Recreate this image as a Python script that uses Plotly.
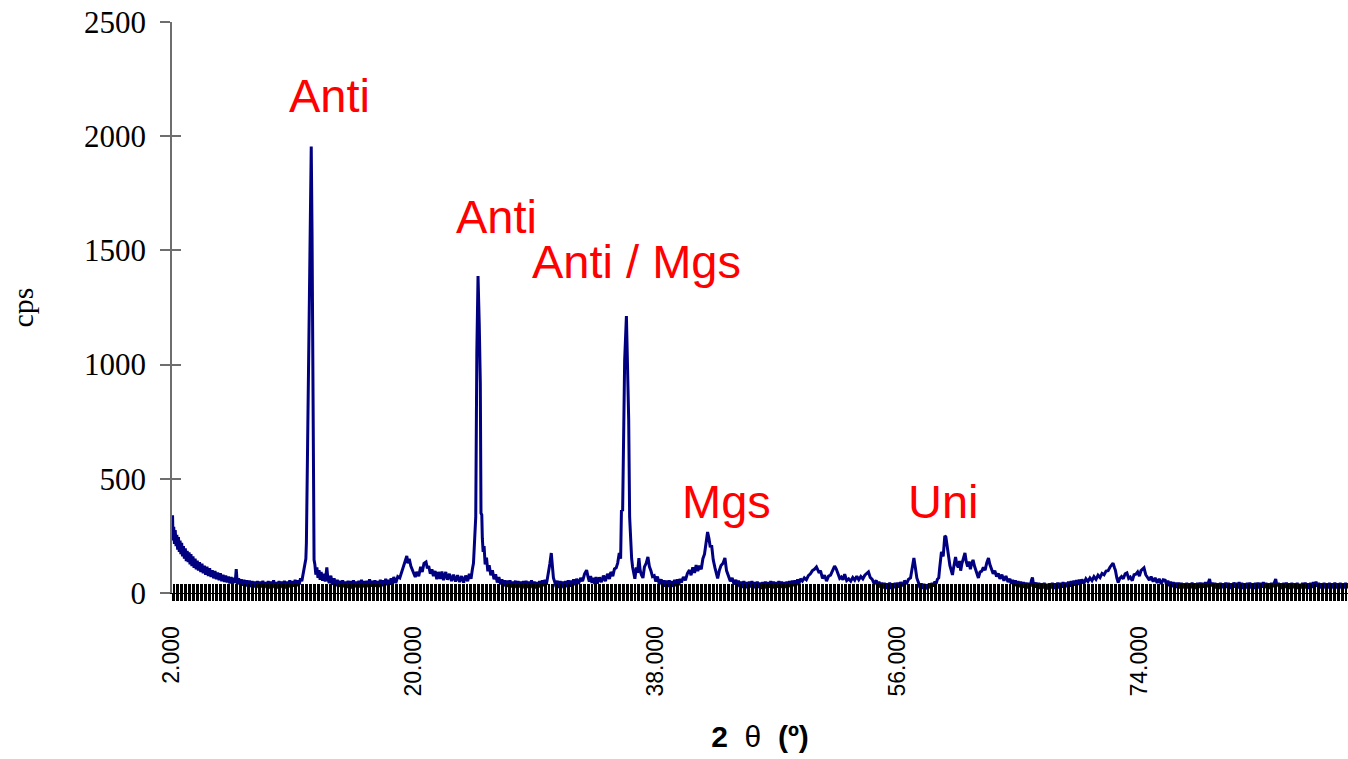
import plotly.graph_objects as go

# X-ray diffraction scan: (2-theta in degrees, intensity in cps)
low_angle = [
    (2.00, 300), (2.04, 340), (2.08, 230), (2.13, 290), (2.18, 215), (2.24, 275),
    (2.30, 205), (2.36, 255), (2.42, 190), (2.48, 245), (2.54, 180), (2.60, 230),
    (2.66, 170), (2.72, 220), (2.78, 160), (2.85, 205), (2.92, 150), (2.99, 195),
    (3.06, 140), (3.13, 185), (3.20, 135), (3.27, 178), (3.34, 125), (3.41, 170),
    (3.48, 118), (3.56, 160), (3.64, 110), (3.72, 150), (3.80, 104), (3.88, 142),
    (3.96, 98), (4.05, 135), (4.14, 92), (4.23, 128), (4.32, 86), (4.41, 120),
    (4.50, 80), (4.60, 115), (4.70, 74), (4.80, 108), (4.90, 70), (5.00, 100),
    (5.10, 64), (5.20, 96), (5.30, 60), (5.40, 90), (5.50, 56), (5.60, 86),
    (5.70, 52), (5.80, 80), (5.90, 48), (6.00, 76), (6.10, 46), (6.20, 72),
    (6.30, 42), (6.40, 70), (6.50, 40), (6.60, 66), (6.70, 44), (6.78, 105),
    (6.86, 40), (6.96, 64), (7.06, 36), (7.16, 60), (7.26, 32), (7.36, 58),
    (7.46, 30), (7.56, 56), (7.66, 28), (7.76, 54), (7.86, 26), (7.96, 52),
    (8.06, 24), (8.16, 50), (8.26, 26), (8.36, 52), (8.46, 22), (8.56, 50),
    (8.66, 24), (8.76, 54), (8.86, 22), (8.96, 48), (9.06, 26), (9.16, 52),
    (9.26, 20), (9.36, 50), (9.46, 24), (9.56, 56), (9.66, 22), (9.76, 48),
    (9.86, 20), (9.96, 52), (10.06, 24), (10.16, 50), (10.26, 22), (10.36, 54),
    (10.46, 20), (10.56, 50), (10.66, 26), (10.76, 56), (10.86, 24), (10.96, 52),
    (11.06, 28), (11.16, 58), (11.26, 30), (11.36, 56), (11.46, 36), (11.56, 64),
    (11.66, 52), (11.74, 80),
]

anti_peak_12 = [
    (11.81, 100), (11.89, 135), (11.96, 150), (12.00, 220), (12.04, 340),
    (12.09, 650), (12.10, 700), (12.33, 1955), (12.36, 1955), (12.42, 1575),
    (12.50, 525), (12.57, 145), (12.63, 125), (12.70, 80), (12.78, 112),
    (12.86, 66), (12.94, 100), (13.02, 58), (13.10, 92), (13.20, 54), (13.30, 84),
    (13.40, 50), (13.52, 112), (13.60, 62), (13.70, 44), (13.82, 76), (13.94, 36),
    (14.06, 64), (14.18, 30), (14.30, 58),
]

mid_angle_1 = [
    (14.40, 28), (14.50, 54), (14.60, 24), (14.70, 56), (14.80, 26), (14.90, 50),
    (15.00, 22), (15.10, 54), (15.20, 24), (15.30, 52), (15.40, 20), (15.50, 56),
    (15.60, 26), (15.70, 50), (15.80, 22), (15.90, 54), (16.00, 24), (16.10, 58),
    (16.20, 26), (16.30, 52), (16.40, 20), (16.50, 54), (16.60, 26), (16.70, 60),
    (16.80, 28), (16.90, 54), (17.00, 24), (17.10, 56), (17.20, 28), (17.30, 52),
    (17.40, 26), (17.50, 58), (17.60, 30), (17.70, 56), (17.80, 32), (17.90, 62),
    (18.00, 34), (18.10, 58), (18.20, 36), (18.30, 64), (18.40, 40), (18.50, 70),
    (18.65, 44), (18.80, 72), (18.95, 66),
    (19.10, 95), (19.25, 120), (19.40, 150), (19.47, 162), (19.55, 130),
    (19.65, 150), (19.77, 118), (19.88, 105), (20.00, 84), (20.10, 70),
    (20.20, 92), (20.36, 74), (20.50, 115), (20.62, 92), (20.75, 130),
    (20.90, 136), (21.00, 108), (21.10, 118), (21.22, 84), (21.34, 104),
    (21.45, 74), (21.58, 96), (21.70, 60), (21.82, 92), (21.95, 62), (22.08, 94),
    (22.20, 56), (22.37, 92), (22.50, 58), (22.65, 84), (22.80, 52), (22.95, 80),
    (23.10, 50), (23.25, 78), (23.40, 48), (23.55, 74), (23.70, 46), (23.85, 76),
    (24.00, 52), (24.12, 84), (24.25, 62), (24.35, 104), (24.43, 130),
]

anti_peak_24 = [
    (24.48, 188), (24.55, 260), (24.60, 333), (24.68, 1050), (24.77, 1388),
    (24.86, 1180), (24.94, 920), (24.99, 350), (25.05, 342), (25.09, 240),
    (25.15, 180), (25.22, 205), (25.30, 125), (25.40, 155), (25.50, 95),
    (25.60, 122), (25.72, 78), (25.84, 100), (25.96, 60), (26.08, 82),
    (26.20, 46), (26.32, 70), (26.45, 38),
]

mid_angle_2 = [
    (26.55, 60), (26.65, 32), (26.75, 56), (26.85, 28), (26.95, 54), (27.05, 26),
    (27.15, 56), (27.25, 24), (27.35, 50), (27.45, 26), (27.55, 54), (27.65, 22),
    (27.75, 52), (27.85, 24), (27.95, 50), (28.05, 20), (28.15, 52), (28.25, 24),
    (28.35, 54), (28.45, 22), (28.55, 50), (28.65, 26), (28.75, 56), (28.85, 22),
    (28.95, 50), (29.05, 20), (29.15, 48), (29.25, 24), (29.35, 52), (29.45, 26),
    (29.55, 56), (29.65, 30), (29.75, 58), (29.85, 36), (29.95, 70),
    (30.02, 90), (30.12, 130), (30.22, 175), (30.30, 125), (30.38, 66),
    (30.48, 48), (30.58, 26), (30.68, 54), (30.78, 22), (30.88, 52), (30.98, 24),
    (31.08, 50), (31.18, 20), (31.28, 52), (31.38, 26), (31.48, 56), (31.58, 28),
    (31.68, 54), (31.78, 30), (31.88, 60), (31.98, 34), (32.10, 62), (32.25, 40),
    (32.40, 66), (32.55, 52), (32.70, 84), (32.85, 100), (32.95, 72), (33.05, 50),
    (33.15, 74), (33.25, 44), (33.35, 66), (33.45, 40), (33.55, 70), (33.65, 42),
    (33.80, 68), (33.95, 48), (34.10, 76), (34.25, 52), (34.40, 84), (34.55, 62),
    (34.65, 92), (34.80, 74), (34.92, 105), (35.05, 110), (35.16, 131),
    (35.28, 175), (35.38, 150),
]

anti_mgs_peak_36 = [
    (35.44, 360), (35.53, 363), (35.60, 700), (35.68, 1020), (35.81, 1213),
    (35.90, 1020), (35.98, 760), (36.05, 333), (36.12, 200), (36.20, 150),
    (36.27, 114), (36.35, 84), (36.44, 62), (36.55, 112), (36.64, 88),
    (36.74, 153), (36.84, 96), (36.94, 78), (37.04, 66), (37.15, 114),
    (37.28, 130), (37.41, 158), (37.52, 116), (37.64, 96), (37.75, 72),
    (37.88, 76), (38.00, 50), (38.12, 72), (38.25, 40), (38.40, 60),
]

mgs_peak_42 = [
    (38.50, 30), (38.60, 56), (38.70, 28), (38.80, 54), (38.90, 26), (39.00, 56),
    (39.10, 24), (39.20, 52), (39.30, 28), (39.40, 58), (39.50, 30), (39.60, 60),
    (39.70, 34), (39.80, 62), (39.90, 46), (40.05, 70), (40.20, 56), (40.35, 86),
    (40.50, 100), (40.62, 78), (40.75, 112), (40.88, 88), (41.00, 122),
    (41.12, 96), (41.25, 120), (41.38, 104), (41.50, 150), (41.62, 170),
    (41.74, 230), (41.85, 267), (41.95, 240), (42.05, 200), (42.15, 210),
    (42.27, 145), (42.40, 110), (42.50, 80), (42.60, 64), (42.72, 98),
    (42.85, 120), (43.00, 130), (43.14, 153), (43.26, 98), (43.40, 74),
    (43.54, 52), (43.68, 66), (43.82, 38), (43.96, 58),
]

mid_angle_3 = [
    (44.05, 30), (44.15, 54), (44.25, 26), (44.35, 50), (44.45, 22), (44.55, 52),
    (44.65, 24), (44.75, 48), (44.85, 20), (44.95, 50), (45.05, 24), (45.15, 52),
    (45.25, 22), (45.35, 48), (45.45, 20), (45.55, 50), (45.65, 22), (45.75, 46),
    (45.85, 18), (45.95, 48), (46.05, 22), (46.15, 50), (46.25, 20), (46.35, 48),
    (46.45, 24), (46.55, 52), (46.65, 22), (46.75, 50), (46.85, 20), (46.95, 48),
    (47.05, 24), (47.15, 52), (47.25, 22), (47.35, 50), (47.45, 24), (47.55, 48),
    (47.65, 22), (47.75, 50), (47.85, 26), (47.95, 52), (48.05, 28), (48.15, 54),
    (48.25, 30), (48.35, 56), (48.45, 34), (48.55, 60), (48.65, 40), (48.75, 62),
    (48.90, 52), (49.05, 66), (49.20, 58), (49.35, 76), (49.50, 84), (49.65, 98),
    (49.80, 104), (49.95, 114), (50.05, 96), (50.15, 88), (50.25, 98),
    (50.40, 64), (50.55, 78), (50.70, 52), (50.85, 74), (51.00, 78), (51.15, 98),
    (51.30, 118), (51.42, 106), (51.55, 88), (51.68, 64), (51.80, 70),
    (51.92, 58), (52.05, 82), (52.20, 54), (52.35, 62), (52.50, 52), (52.65, 68),
    (52.80, 56), (52.95, 74), (53.10, 58), (53.25, 72), (53.40, 62), (53.55, 78),
    (53.70, 84), (53.82, 92), (53.95, 68), (54.10, 60), (54.25, 40), (54.40, 56),
    (54.50, 30), (54.60, 50), (54.70, 24), (54.80, 46), (54.90, 20), (55.00, 44),
    (55.10, 18), (55.20, 42), (55.30, 20), (55.40, 46), (55.50, 18), (55.60, 42),
    (55.70, 22), (55.80, 44), (55.90, 20), (56.00, 46), (56.10, 24), (56.20, 48),
    (56.35, 30), (56.50, 54), (56.65, 40), (56.80, 60), (56.95, 66),
    (57.10, 110), (57.20, 153), (57.30, 115), (57.42, 66), (57.55, 44),
    (57.65, 22), (57.75, 42), (57.85, 18), (57.95, 40), (58.05, 16), (58.15, 38),
    (58.25, 20), (58.35, 42), (58.45, 22), (58.55, 44), (58.65, 28), (58.75, 50),
    (58.85, 40), (58.95, 60),
]

uni_peak_60 = [
    (59.05, 66), (59.12, 110), (59.25, 180), (59.38, 160), (59.50, 250),
    (59.58, 245), (59.68, 200), (59.77, 180), (59.88, 120), (60.00, 95),
    (60.07, 79), (60.15, 110), (60.22, 140), (60.30, 158), (60.40, 124),
    (60.50, 112), (60.60, 140), (60.68, 98), (60.78, 130), (60.90, 150),
    (61.00, 175), (61.10, 136), (61.20, 116), (61.30, 138), (61.40, 104),
    (61.50, 128), (61.60, 145), (61.72, 116), (61.85, 92), (62.00, 66),
    (62.12, 92), (62.25, 96), (62.37, 112), (62.50, 100), (62.62, 132),
    (62.75, 153), (62.85, 126), (62.97, 106), (63.10, 84), (63.22, 98),
    (63.35, 72), (63.48, 86), (63.60, 62), (63.75, 80), (63.90, 54), (64.05, 74),
    (64.20, 48), (64.35, 62), (64.45, 40), (64.55, 58), (64.65, 34), (64.75, 56),
]

high_angle = [
    (64.85, 30), (64.95, 52), (65.05, 26), (65.15, 50), (65.25, 22), (65.35, 48),
    (65.45, 24), (65.55, 46), (65.65, 20), (65.75, 44), (65.85, 28), (65.95, 56),
    (66.02, 68), (66.10, 38), (66.20, 24), (66.30, 46), (66.40, 20), (66.50, 44),
    (66.60, 18), (66.70, 42), (66.80, 20), (66.90, 44), (67.00, 18), (67.10, 40),
    (67.20, 16), (67.30, 42), (67.40, 20), (67.50, 44), (67.60, 18), (67.70, 42),
    (67.80, 22), (67.90, 46), (68.00, 20), (68.10, 44), (68.20, 24), (68.30, 48),
    (68.40, 22), (68.50, 46), (68.60, 26), (68.70, 50), (68.80, 28), (68.90, 52),
    (69.00, 30), (69.10, 54), (69.20, 32), (69.30, 56), (69.40, 36), (69.50, 58),
    (69.60, 38), (69.70, 60), (69.85, 42), (70.00, 62), (70.15, 50), (70.30, 66),
    (70.45, 54), (70.60, 72), (70.75, 60), (70.90, 78), (71.05, 68), (71.20, 86),
    (71.35, 80), (71.50, 96), (71.65, 98), (71.80, 114), (71.92, 122),
    (72.02, 131), (72.12, 112), (72.20, 98), (72.30, 66), (72.40, 46),
    (72.52, 64), (72.65, 72), (72.78, 62), (72.92, 84), (73.05, 88), (73.18, 64),
    (73.30, 70), (73.45, 54), (73.58, 80), (73.72, 82), (73.85, 92), (73.98, 74),
    (74.10, 98), (74.22, 104), (74.32, 110), (74.45, 80), (74.58, 68),
    (74.72, 56), (74.85, 72), (75.00, 50), (75.15, 66), (75.30, 44), (75.45, 62),
    (75.60, 40), (75.75, 58), (75.90, 56), (76.00, 34), (76.10, 54), (76.20, 30),
    (76.30, 50), (76.40, 26), (76.50, 48), (76.60, 24), (76.70, 46), (76.80, 22),
    (76.90, 46), (77.00, 20), (77.10, 44), (77.20, 22), (77.30, 42), (77.40, 18),
    (77.50, 44), (77.60, 20), (77.70, 42), (77.80, 22), (77.90, 46), (78.00, 20),
    (78.10, 42), (78.20, 18), (78.30, 44), (78.40, 22), (78.50, 46), (78.60, 20),
    (78.70, 44), (78.80, 24), (78.90, 48), (79.00, 26), (79.10, 44), (79.20, 61),
    (79.30, 30), (79.40, 46), (79.50, 22), (79.60, 44), (79.70, 20), (79.80, 42),
    (79.90, 18), (80.00, 44), (80.10, 22), (80.20, 42), (80.30, 20), (80.40, 46),
    (80.50, 22), (80.60, 44), (80.70, 18), (80.80, 42), (80.90, 20), (81.00, 46),
    (81.10, 24), (81.20, 44), (81.30, 20), (81.40, 48), (81.50, 22), (81.60, 44),
    (81.70, 18), (81.80, 42), (81.90, 20), (82.00, 44), (82.10, 22), (82.20, 46),
    (82.30, 20), (82.40, 42), (82.50, 18), (82.60, 44), (82.70, 22), (82.80, 46),
    (82.90, 20), (83.00, 44), (83.10, 24), (83.20, 48), (83.30, 22), (83.40, 44),
    (83.50, 20), (83.60, 42), (83.70, 18), (83.80, 44), (83.90, 26), (84.00, 46),
    (84.12, 61), (84.22, 30), (84.32, 44), (84.42, 20), (84.52, 42), (84.62, 18),
    (84.72, 44), (84.82, 22), (84.92, 46), (85.02, 20), (85.12, 42), (85.22, 18),
    (85.32, 44), (85.42, 22), (85.52, 42), (85.62, 20), (85.72, 44), (85.82, 18),
    (85.92, 40), (86.02, 20), (86.12, 44), (86.22, 22), (86.32, 46), (86.42, 20),
    (86.52, 42), (86.62, 18), (86.72, 44), (86.82, 22), (86.92, 48), (87.02, 26),
    (87.12, 50), (87.22, 28), (87.32, 44), (87.42, 20), (87.52, 42), (87.62, 18),
    (87.72, 44), (87.82, 22), (87.92, 42), (88.02, 20), (88.12, 44), (88.22, 18),
    (88.32, 42), (88.42, 22), (88.52, 46), (88.62, 20), (88.72, 42), (88.82, 18),
    (88.92, 44), (89.02, 22), (89.12, 42), (89.22, 20), (89.32, 44), (89.42, 22),
    (89.52, 42), (89.62, 20), (89.72, 44), (89.82, 22), (89.92, 40),
]

# Phase labels: text, 2-theta, cps of the label centre
phase_labels = ["Anti", "Anti", "Anti / Mgs", "Mgs", "Uni"]
label_theta = [13.71, 26.13, 36.57, 43.26, 59.40]
label_cps = [2180, 1650, 1450, 400, 400]

y_ticks = [0, 500, 1000, 1500, 2000, 2500]
x_ticks = [2, 20, 38, 56, 74]
x_tick_text = ["2.000", "20.000", "38.000", "56.000", "74.000"]

scan = (low_angle + anti_peak_12 + mid_angle_1 + anti_peak_24 + mid_angle_2
        + anti_mgs_peak_36 + mgs_peak_42 + mid_angle_3 + uni_peak_60 + high_angle)
two_theta = [p[0] for p in scan]
cps = [p[1] for p in scan]

X_RANGE = [2, 89.5]
Y_RANGE = [0, 2500]
AXIS_GREY = "#6e6e6e"
STEP = 0.1

fig = go.Figure()
fig.add_trace(go.Scatter(
    x=two_theta, y=cps, mode="lines",
    line=dict(color="#000080", width=3),
    hoverinfo="skip", showlegend=False,
))
# empty traces so the overlay axes (inner halves of the crossing ticks) are drawn
fig.add_trace(go.Scatter(x=[], y=[], xaxis="x2", yaxis="y", showlegend=False))
fig.add_trace(go.Scatter(x=[], y=[], xaxis="x", yaxis="y2", showlegend=False))

for text, tx, ty in zip(phase_labels, label_theta, label_cps):
    fig.add_annotation(
        x=tx, y=ty, text=text, showarrow=False,
        xanchor="center", yanchor="middle",
        font=dict(family="Liberation Sans, Arial", size=47, color="#ff0000"),
    )

fig.update_layout(
    width=1348, height=759,
    margin=dict(l=172, r=0, t=22, b=166),
    paper_bgcolor="white", plot_bgcolor="white",
    showlegend=False,
    xaxis=dict(
        range=X_RANGE, tickmode="array", tickvals=x_ticks, ticktext=x_tick_text,
        tickangle=-90, ticks="outside", ticklen=7, tickwidth=1, tickcolor="black",
        minor=dict(ticks="outside", ticklen=7, tickwidth=1, tickcolor="black",
                   tick0=2, dtick=STEP, showgrid=False),
        showline=True, linecolor="black", linewidth=1,
        showgrid=False, zeroline=False,
        tickfont=dict(family="Liberation Sans, Arial", size=23, color="black"),
        ticklabelstandoff=16,
        title=dict(
            text="<b>2\u00a0\u00a0</b>θ<b>\u00a0\u00a0(º)</b>",
            font=dict(family="Liberation Sans, Arial", size=30, color="black"),
            standoff=30,
        ),
    ),
    xaxis2=dict(
        range=X_RANGE, overlaying="x", anchor="y", side="bottom",
        tickmode="array", tickvals=x_ticks,
        ticks="inside", ticklen=9, tickwidth=1, tickcolor="black",
        minor=dict(ticks="inside", ticklen=9, tickwidth=1, tickcolor="black",
                   tick0=2, dtick=STEP, showgrid=False),
        showticklabels=False, showline=False, showgrid=False, zeroline=False,
    ),
    yaxis=dict(
        range=Y_RANGE, tickmode="array", tickvals=y_ticks,
        ticks="outside", ticklen=10, tickwidth=1.5, tickcolor=AXIS_GREY,
        showline=True, linecolor=AXIS_GREY, linewidth=1.5,
        showgrid=False, zeroline=False,
        tickfont=dict(family="Liberation Serif, Times New Roman", size=31, color="black"),
        ticklabelstandoff=8,
        title=dict(
            text="cps",
            font=dict(family="Liberation Serif, Times New Roman", size=30, color="black"),
            standoff=42,
        ),
    ),
    yaxis2=dict(
        range=Y_RANGE, overlaying="y", anchor="x", side="left",
        tickmode="array", tickvals=y_ticks,
        ticks="inside", ticklen=9, tickwidth=1.5, tickcolor=AXIS_GREY,
        showticklabels=False, showline=False, showgrid=False, zeroline=False,
    ),
)

fig.write_html("out.html")
